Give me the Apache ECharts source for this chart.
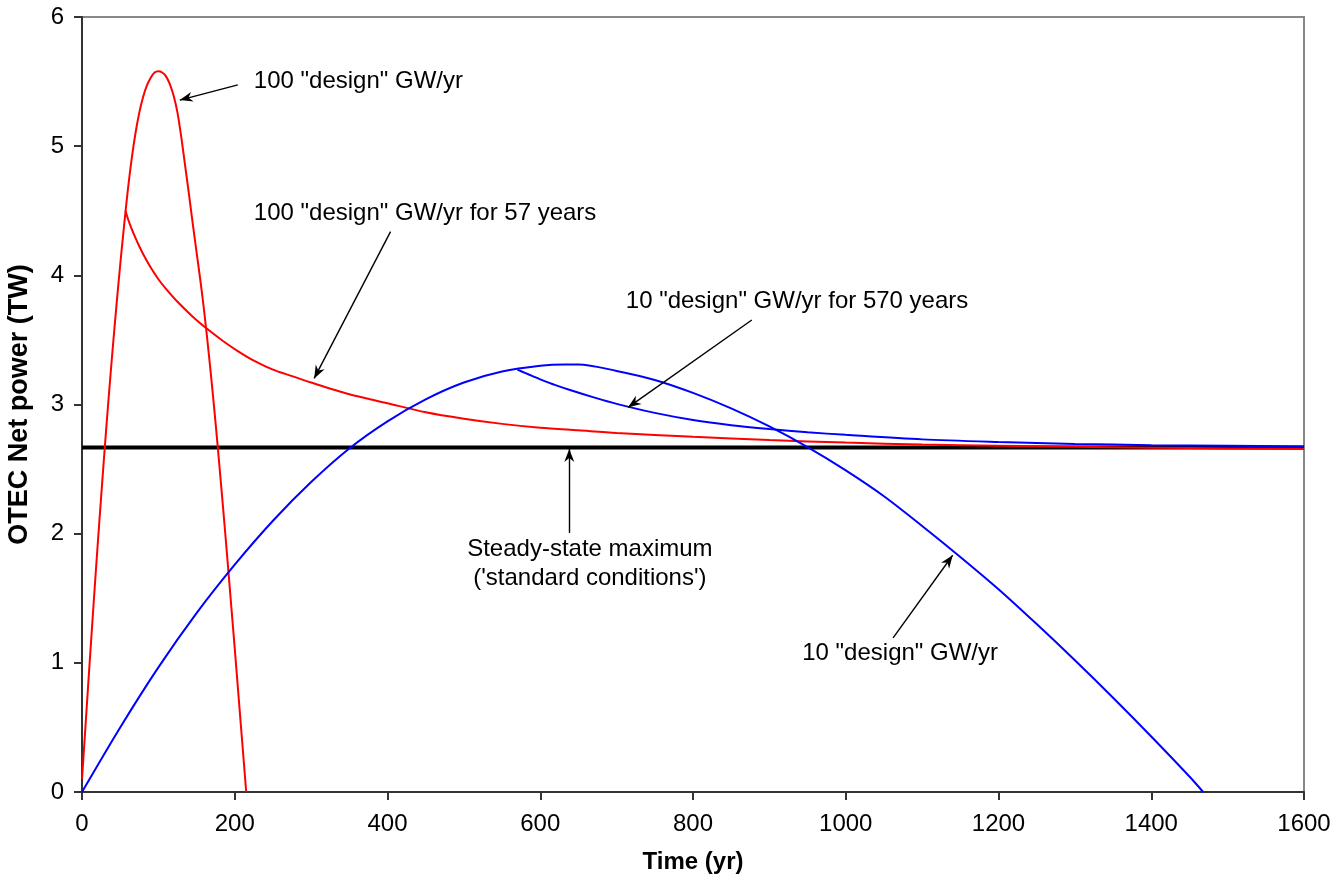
<!DOCTYPE html>
<html><head><meta charset="utf-8">
<script src="https://cdn.jsdelivr.net/npm/echarts/dist/echarts.min.js"></script>
<style>html,body{margin:0;padding:0;background:#fff}#c{width:1338px;height:885px}</style>
</head><body><div id="c"></div>
<script>
// 100 "design" GW/yr
const xA = [0,5,10,15,20,25,30,35,40,45,50,55,60,65,70,75,80,85,90,95,100,105,110,115,120,125,130,135,140,145,150,155,160,165,170,175,180,185,190,195,200,205,210,215];
const yA = [0.10,0.55,1.00,1.44,1.87,2.28,2.68,3.06,3.42,3.76,4.08,4.38,4.66,4.90,5.10,5.26,5.38,5.47,5.53,5.57,5.58,5.57,5.54,5.48,5.39,5.26,5.07,4.85,4.63,4.40,4.18,3.96,3.72,3.45,3.16,2.85,2.52,2.18,1.83,1.47,1.11,0.74,0.37,0];
// 100 "design" GW/yr for 57 years
const xB = [57,60,65,70,75,80,90,100,110,125,145,165,185,205,225,250,275,300,350,400,450,500,550,600,650,700,800,900,1000,1100,1200,1300,1400,1500,1600];
const yB = [4.50,4.44,4.36,4.29,4.225,4.165,4.06,3.97,3.895,3.795,3.68,3.58,3.49,3.41,3.34,3.27,3.22,3.17,3.08,3.01,2.94,2.89,2.85,2.82,2.80,2.78,2.75,2.725,2.705,2.69,2.68,2.672,2.665,2.66,2.655];
// 10 "design" GW/yr
const xC = [0,50,100,150,200,250,300,350,400,450,500,550,600,632,650,700,750,800,850,900,950,1000,1050,1100,1150,1200,1250,1300,1350,1400,1450,1468];
const yC = [0,0.50,0.965,1.385,1.76,2.10,2.40,2.66,2.87,3.04,3.17,3.255,3.30,3.31,3.31,3.26,3.19,3.09,2.97,2.83,2.67,2.49,2.29,2.06,1.82,1.57,1.30,1.02,0.73,0.43,0.12,0];
// 10 "design" GW/yr for 570 years
const xD = [570,580,590,600,620,640,670,700,750,800,850,900,950,1000,1100,1200,1300,1400,1500,1600];
const yD = [3.27,3.245,3.22,3.195,3.15,3.11,3.055,3.005,2.935,2.88,2.84,2.81,2.785,2.765,2.73,2.71,2.695,2.685,2.68,2.675];
// Steady-state maximum
const xS = [0,1600];
const yS = [2.667,2.667];

const xTicks = {min:0, max:1600, interval:200};
const yTicks = {min:0, max:6, interval:1};

const labels = [
  {text:'100 "design" GW/yr', at:[225,5.50], align:'left'},
  {text:'100 "design" GW/yr for 57 years', at:[225,4.48], align:'left'},
  {text:'10 "design" GW/yr for 570 years', at:[712,3.80], align:'left'},
  {text:'Steady-state maximum\n(\'standard conditions\')', at:[665,1.765], align:'center'},
  {text:'10 "design" GW/yr', at:[943,1.07], align:'left'}
];
const arrows = [
  {from:[204,5.474], to:[128,5.357]},
  {from:[404,4.338], to:[304,3.202]},
  {from:[877,3.654], to:[715,2.978]},
  {from:[638,2.006], to:[638,2.655]},
  {from:[1062,1.193], to:[1140,1.833]}
];

const FONT = "'Liberation Sans', Arial, sans-serif";
const pair = (xs, ys) => xs.map((x,i)=>[x, ys[i]]);

const chart = echarts.init(document.getElementById('c'), null, {renderer:'canvas'});
const axisLine = {show:true, lineStyle:{color:'#333', width:2}};
chart.setOption({
  animation:false,
  backgroundColor:'#fff',
  textStyle:{fontFamily:FONT},
  grid:{left:82, right:34, top:17, bottom:93, show:true, borderColor:'#888', borderWidth:2,
    containLabel:false, outerBoundsMode:'none'},
  xAxis:{type:'value', min:xTicks.min, max:xTicks.max, interval:xTicks.interval,
    name:'Time (yr)', nameLocation:'middle', nameGap:58,
    nameTextStyle:{fontSize:24, fontWeight:'bold', color:'#000', fontFamily:FONT},
    axisLine:axisLine, axisTick:{show:true, length:8, lineStyle:{color:'#333', width:2}},
    axisLabel:{fontSize:24, color:'#000', margin:20, fontFamily:FONT, formatter:v=>String(v)},
    splitLine:{show:false}},
  yAxis:{type:'value', min:yTicks.min, max:yTicks.max, interval:yTicks.interval,
    name:'OTEC Net power (TW)', nameLocation:'middle', nameGap:49,
    nameTextStyle:{fontSize:27, fontWeight:'bold', color:'#000', fontFamily:FONT},
    axisLine:axisLine, axisTick:{show:true, length:8, lineStyle:{color:'#333', width:2}},
    axisLabel:{fontSize:24, color:'#000', margin:18, fontFamily:FONT, formatter:v=>String(v)},
    splitLine:{show:false}},
  series:[
    {type:'line', name:'Steady-state', data:pair(xS,yS), showSymbol:false, silent:true,
      lineStyle:{color:'#000', width:4}, z:2,
      markLine:{silent:true, animation:false, symbol:['none','none'],
        label:{show:false}, lineStyle:{color:'#000', width:1.4, type:'solid'},
        emphasis:{disabled:true},
        data:arrows.map(a=>[{coord:a.from},{coord:a.to}])},
      markPoint:{silent:true, animation:false, symbol:'circle', symbolSize:0,
        data:labels.map(l=>({coord:l.at, value:0, label:{show:true, position:[0,0], formatter:l.text,
          align:l.align, verticalAlign:'middle', fontSize:24, lineHeight:29, color:'#000', fontFamily:FONT}}))}
    },
    {type:'line', name:'100 design GW/yr', data:pair(xA,yA), showSymbol:false, smooth:0.3,
      lineStyle:{color:'#ff0000', width:2}, z:3},
    {type:'line', name:'100 design GW/yr for 57 years', data:pair(xB,yB), showSymbol:false, smooth:0.3,
      lineStyle:{color:'#ff0000', width:2}, z:3},
    {type:'line', name:'10 design GW/yr', data:pair(xC,yC), showSymbol:false, smooth:0.3,
      lineStyle:{color:'#0000ff', width:2}, z:4},
    {type:'line', name:'10 design GW/yr for 570 years', data:pair(xD,yD), showSymbol:false, smooth:0.3,
      lineStyle:{color:'#0000ff', width:2}, z:4}
  ]
});

// arrowheads positioned through the chart's own coordinate conversion
function drawHeads(){
  const els = arrows.map(a=>{
    const p1 = chart.convertToPixel({gridIndex:0}, a.from);
    const p2 = chart.convertToPixel({gridIndex:0}, a.to);
    const dx = p2[0]-p1[0], dy = p2[1]-p1[1], len = Math.hypot(dx,dy);
    const ux = dx/len, uy = dy/len, nx = -uy, ny = ux;
    const L = 13, W = 5, N = 9;
    return {type:'polygon', silent:true, z:100,
      shape:{points:[
        [p2[0], p2[1]],
        [p2[0]-L*ux+W*nx, p2[1]-L*uy+W*ny],
        [p2[0]-N*ux, p2[1]-N*uy],
        [p2[0]-L*ux-W*nx, p2[1]-L*uy-W*ny]
      ]},
      style:{fill:'#000'}};
  });
  chart.setOption({graphic:els});
}
drawHeads();
</script></body></html>
